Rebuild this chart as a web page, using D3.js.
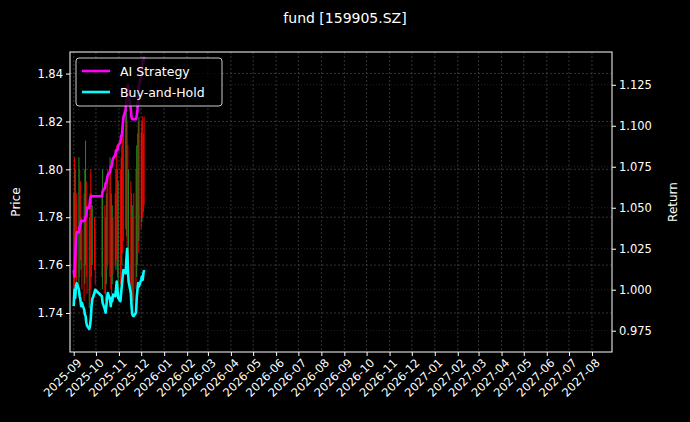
<!DOCTYPE html>
<html><head><meta charset="utf-8">
<script src="https://cdn.jsdelivr.net/npm/d3@7"></script>
<style>body{margin:0;background:#000}svg{display:block;font-family:"DejaVu Sans",sans-serif}</style>
</head><body><svg id="c" width="690" height="422"></svg>
<script>
const dates = ["2025-09-01","2025-09-02","2025-09-03","2025-09-04","2025-09-05","2025-09-08","2025-09-09","2025-09-10","2025-09-11","2025-09-12","2025-09-15","2025-09-16","2025-09-17","2025-09-18","2025-09-19","2025-09-22","2025-09-23","2025-09-24","2025-09-25","2025-09-26","2025-09-29","2025-09-30",
"2025-10-09","2025-10-10","2025-10-13","2025-10-14","2025-10-15","2025-10-16","2025-10-17","2025-10-20","2025-10-21","2025-10-22","2025-10-23","2025-10-24","2025-10-27","2025-10-28","2025-10-29","2025-10-30","2025-10-31",
"2025-11-03","2025-11-04","2025-11-05","2025-11-06","2025-11-07","2025-11-10","2025-11-11","2025-11-12","2025-11-13","2025-11-14","2025-11-17","2025-11-18","2025-11-19","2025-11-20","2025-11-21","2025-11-24","2025-11-25","2025-11-26","2025-11-27","2025-11-28",
"2025-12-01","2025-12-02","2025-12-03","2025-12-04","2025-12-05"];
const high = [1.79,1.805,1.80,1.785,1.79,1.805,1.80,1.795,1.78,1.775,1.79,1.80,1.812,1.795,1.785,1.78,1.79,1.80,1.79,1.785,1.78,1.775,
1.79,1.80,1.785,1.78,1.79,1.795,1.80,1.805,1.80,1.79,1.785,1.78,1.79,1.80,1.81,1.80,1.795,
1.80,1.805,1.81,1.815,1.82,1.825,1.828,1.82,1.81,1.80,1.795,1.79,1.785,1.78,1.79,1.80,1.81,1.815,1.82,1.822,
1.815,1.82,1.822,1.815,1.822];
const low = [1.75,1.745,1.755,1.76,1.75,1.748,1.755,1.762,1.758,1.75,1.745,1.752,1.76,1.755,1.748,1.742,1.745,1.75,1.755,1.76,1.758,1.752,
1.755,1.75,1.748,1.745,1.752,1.758,1.76,1.755,1.75,1.748,1.752,1.756,1.76,1.758,1.762,1.755,1.75,
1.752,1.756,1.76,1.765,1.77,1.775,1.772,1.768,1.76,1.755,1.75,1.748,1.745,1.742,1.745,1.75,1.755,1.76,1.765,1.77,
1.775,1.778,1.78,1.782,1.785];
const up = [1,1,0,1,1,0,1,1,0,1,1,0,0,1,1,0,1,1,1,0,1,1, 1,0,1,1,0,1,1,0,1,1,0,1,1,0,1,1,0, 1,1,0,1,1,1,0,1,1,0,1,1,0,1,1,1,0,1,1,0, 1,0,1,1,1];
const strategy = [1.012,1.008,1.02,1.03,1.035,1.035,1.038,1.04,1.042,1.042,1.042,1.042,1.045,1.045,1.05,1.05,1.055,1.057,1.057,1.057,1.057,1.057,
1.057,1.06,1.062,1.065,1.065,1.068,1.07,1.072,1.075,1.075,1.078,1.08,1.082,1.085,1.085,1.085,1.088,
1.09,1.094,1.094,1.10,1.105,1.11,1.115,1.12,1.125,1.12,1.11,1.105,1.104,1.104,1.104,1.104,1.106,1.11,1.12,1.125,
1.13,1.135,1.14,1.138,1.142];
const buyhold = [0.99,1.0,0.995,1.002,1.004,1.0,0.996,0.994,0.99,0.992,0.988,0.985,0.984,0.98,0.978,0.976,0.978,0.982,0.99,0.994,0.998,1.0,
0.996,0.992,0.988,0.986,0.99,0.995,0.998,0.994,0.99,0.995,0.993,0.997,0.996,1.0,1.005,1.0,0.995,
0.993,0.998,1.003,1.008,1.012,1.01,1.018,1.025,1.015,1.005,0.998,0.99,0.985,0.984,0.984,0.986,0.995,1.0,1.004,1.002,
1.006,1.008,1.006,1.01,1.012];
const priceTicks = [1.74,1.76,1.78,1.80,1.82,1.84];
const returnTicks = [0.975,1.000,1.025,1.050,1.075,1.100,1.125];
const legendLabels = ["AI Strategy","Buy-and-Hold"];
const lineColors = ["#ff00ff","#00ffff"];

const p = d3.timeParse("%Y-%m-%d");
const D = dates.map(p);
const L=70,R=612,T=52,B=352;
const svg = d3.select("#c");
svg.append("rect").attr("width",690).attr("height",422).attr("fill","#000");
const x = d3.scaleTime().domain([p("2025-08-27"),p("2027-08-28")]).range([L,R]);
const yP = d3.scaleLinear().domain([1.7237,1.849]).range([B,T]);
const yR = d3.scaleLinear().domain([0.962,1.145]).range([B,T]);
const months = d3.timeMonth.range(p("2025-09-01"),p("2027-08-02"));
const g = svg.append("g");
g.selectAll(".gx").data(months).join("line").attr("x1",d=>x(d)).attr("x2",d=>x(d)).attr("y1",T).attr("y2",B)
 .attr("stroke","#555").attr("stroke-width",0.6).attr("stroke-dasharray","2,2");
g.selectAll(".gy").data(priceTicks).join("line").attr("x1",L).attr("x2",R).attr("y1",d=>yP(d)).attr("y2",d=>yP(d))
 .attr("stroke","#555").attr("stroke-width",0.6).attr("stroke-dasharray","2,2");
g.selectAll(".gr").data(returnTicks).join("line").attr("x1",L).attr("x2",R).attr("y1",d=>yR(d)).attr("y2",d=>yR(d))
 .attr("stroke","#444").attr("stroke-width",0.5).attr("stroke-dasharray","1,2");
g.selectAll(".c").data(D).join("line").attr("x1",d=>x(d)).attr("x2",d=>x(d))
 .attr("y1",(d,i)=>yP(low[i])).attr("y2",(d,i)=>yP(high[i]))
 .attr("stroke",(d,i)=>up[i]?"#ee0000":"#228b22").attr("stroke-width",1);
[strategy,buyhold].forEach((s,k)=>{
 g.append("path").datum(s).attr("fill","none").attr("stroke",lineColors[k]).attr("stroke-width",2.6).attr("stroke-linejoin","round")
  .attr("d",d3.line().x((d,i)=>x(D[i])).y(d=>yR(d)));
});
const ax = svg.append("g").attr("transform",`translate(0,${B})`).call(d3.axisBottom(x).tickValues(months).tickFormat(d3.timeFormat("%Y-%m")).tickSize(4).tickSizeOuter(0));
ax.selectAll("text").attr("transform","rotate(-45)").style("text-anchor","end").attr("dx","-0.2em").attr("dy","0.6em");
const al = svg.append("g").attr("transform",`translate(${L},0)`).call(d3.axisLeft(yP).tickValues(priceTicks).tickFormat(d3.format(".2f")).tickSize(4).tickSizeOuter(0));
const ar = svg.append("g").attr("transform",`translate(${R},0)`).call(d3.axisRight(yR).tickValues(returnTicks).tickFormat(d3.format(".3f")).tickSize(4).tickSizeOuter(0));
[ax,al,ar].forEach(a=>{a.selectAll("text").attr("fill","#fff").style("font-size","11.5px").style("font-family","DejaVu Sans");a.selectAll("line").attr("stroke","#fff");a.select(".domain").remove();});
svg.append("rect").attr("x",L).attr("y",T).attr("width",R-L).attr("height",B-T).attr("fill","none").attr("stroke","#fff").attr("stroke-width",1);
svg.append("text").attr("x",345).attr("y",23).attr("text-anchor","middle").attr("fill","#fff").style("font-size","14px").text("fund [159905.SZ]");
svg.append("text").attr("transform","translate(20,202) rotate(-90)").attr("text-anchor","middle").attr("fill","#fff").style("font-size","12px").text("Price");
svg.append("text").attr("transform","translate(677,202) rotate(-90)").attr("text-anchor","middle").attr("fill","#fff").style("font-size","12px").text("Return");
const lg = svg.append("g");
lg.append("rect").attr("x",76).attr("y",58).attr("width",146).attr("height",48).attr("rx",3).attr("fill","#000").attr("fill-opacity",0.8).attr("stroke","#ccc");
legendLabels.forEach((t,i)=>{
 lg.append("line").attr("x1",82).attr("x2",110).attr("y1",71+i*21).attr("y2",71+i*21).attr("stroke",lineColors[i]).attr("stroke-width",2.6);
 lg.append("text").attr("x",120).attr("y",75.5+i*21).attr("fill","#fff").style("font-size","12.5px").text(t);
});
</script></body></html>
